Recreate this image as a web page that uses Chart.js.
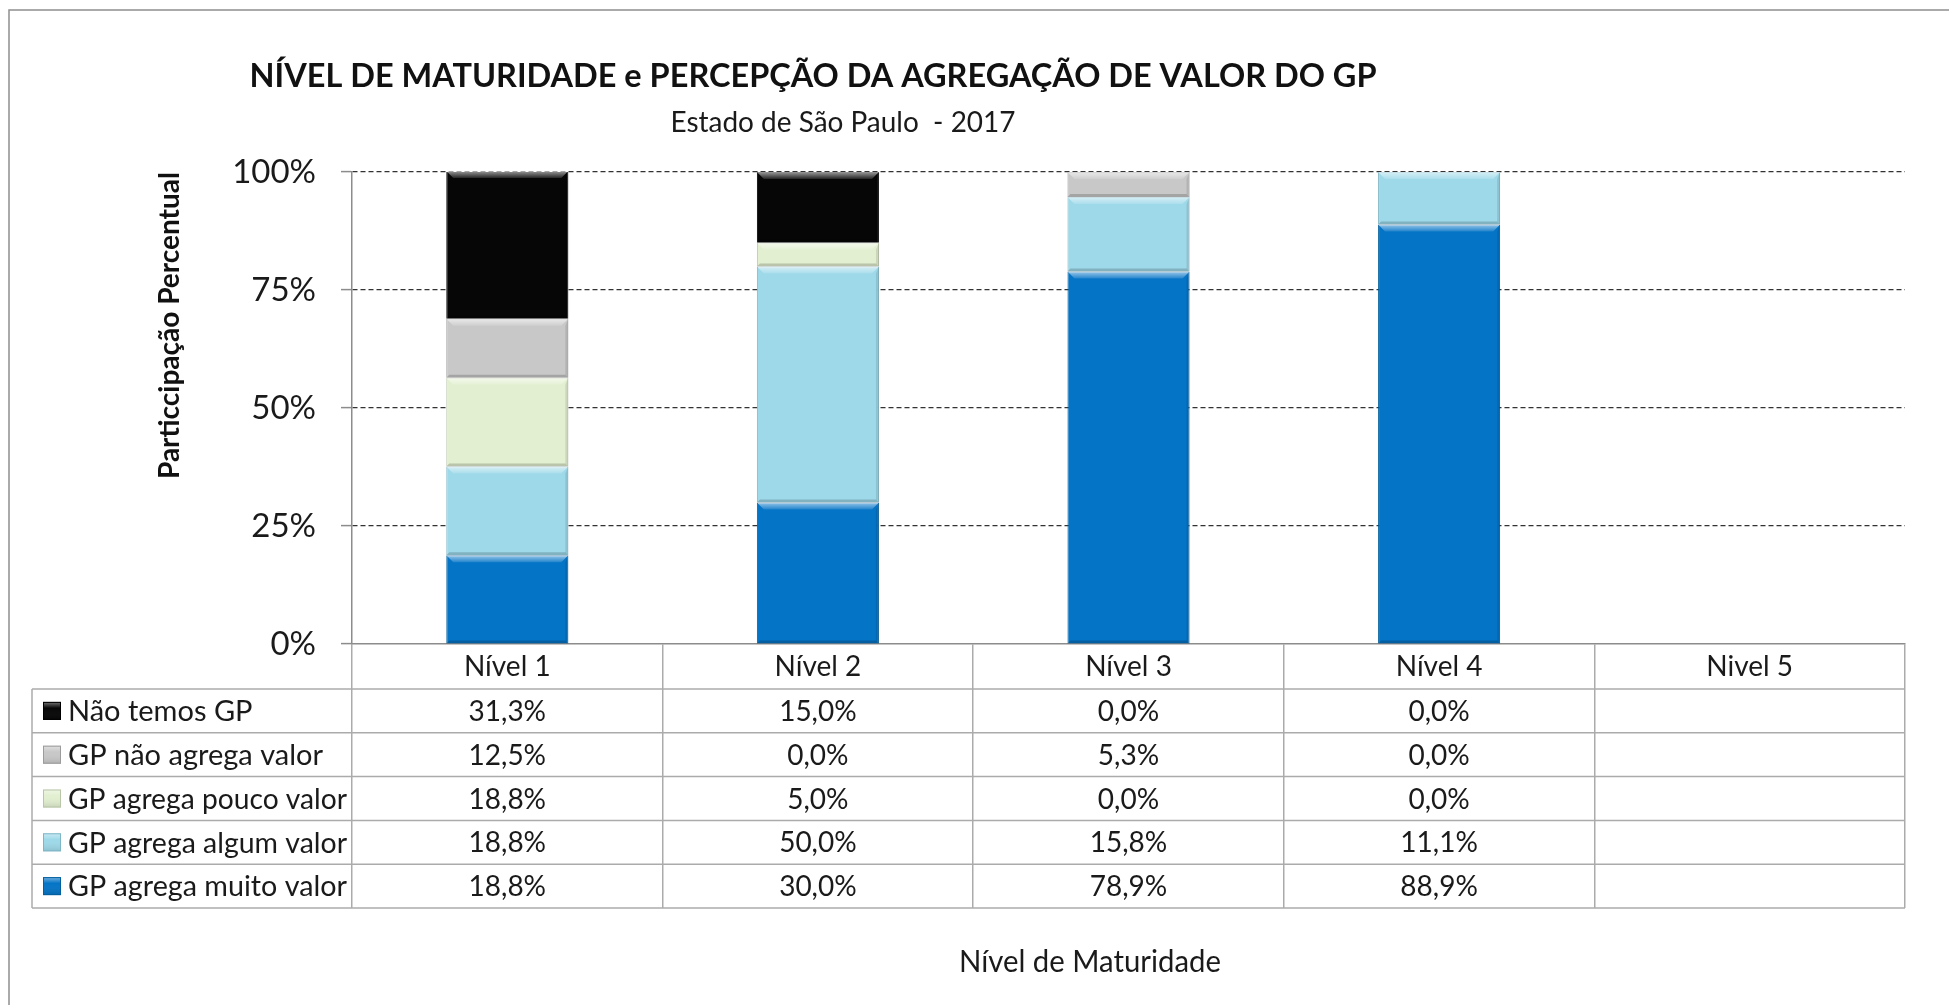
<!DOCTYPE html>
<html><head><meta charset="utf-8">
<script src="https://cdn.jsdelivr.net/npm/chart.js@4.4.1/dist/chart.umd.min.js"></script>
<style>html,body{margin:0;padding:0;background:#fff;overflow:hidden}canvas{display:block}</style>
</head><body>
<canvas id="c" width="1949" height="1005"></canvas>
<script>
// ---------- data ----------
const categories = ['Nível 1', 'Nível 2', 'Nível 3', 'Nível 4', 'Nivel 5'];
const seriesNames = ['GP agrega muito valor', 'GP agrega algum valor', 'GP agrega pouco valor', 'GP não agrega valor', 'Não temos GP'];
const muitoValor = [18.8, 30.0, 78.9, 88.9, null];
const algumValor = [18.8, 50.0, 15.8, 11.1, null];
const poucoValor = [18.8, 5.0, 0.0, 0.0, null];
const naoAgrega  = [12.5, 0.0, 5.3, 0.0, null];
const naoTemos   = [31.3, 15.0, 0.0, 0.0, null];
const yTicks = [0, 25, 50, 75, 100];
const chartTitle = 'NÍVEL DE MATURIDADE e PERCEPÇÃO DA AGREGAÇÃO DE VALOR DO GP';
const chartSubtitle = 'Estado de São Paulo  - 2017';
const yTitle = 'Particcipação Percentual';
const xTitle = 'Nível de Maturidade';

// ---------- styles ----------
const FONT = 'Lato';
const fills = ['#0474C6', '#9ED9E9', '#E2EFD0', '#C8C8C8', '#060606'];
const edges = ['#03609F', '#7FB6C6', '#B9C6A9', '#9C9C9C', '#000000'];
const tableLine = '#ABABAB';
const HEADER_H = 45, ROW_H = 43.8, TABLE_LEFT = 32;

const seriesValues = [muitoValor, algumValor, poucoValor, naoAgrega, naoTemos];

function fmt(v) { return (v === null || v === undefined) ? '' : v.toFixed(1).replace('.', ',') + '%'; }

// draws text, condensing horizontally (like a narrow face) if wider than maxW
function drawText(ctx, text, x, y, weight, size, maxW, align) {
  ctx.font = `${weight} ${size}px ${FONT}`;
  const w = ctx.measureText(text).width;
  const sx = (maxW && w > maxW) ? maxW / w : 1;
  ctx.save();
  ctx.translate(x, y);
  ctx.scale(sx, 1);
  ctx.textAlign = align;
  ctx.fillText(text, 0, 0);
  ctx.restore();
}

const framePlugin = {
  id: 'frame',
  beforeDraw(chart) {
    const ctx = chart.ctx;
    ctx.save();
    ctx.fillStyle = '#fff';
    ctx.fillRect(0, 0, chart.width, chart.height);
    ctx.strokeStyle = '#8F8F8F';
    ctx.lineWidth = 1.5;
    ctx.strokeRect(9, 10, chart.width + 20, chart.height + 20);
    ctx.restore();
  }
};

const bevelPlugin = {
  id: 'bevel',
  afterDatasetsDraw(chart) {
    const ctx = chart.ctx, ca = chart.chartArea;
    ctx.save();
    ctx.beginPath(); ctx.rect(ca.left, ca.top - 1, ca.right - ca.left, ca.bottom - ca.top + 1); ctx.clip();
    chart.data.datasets.forEach((ds, di) => {
      const meta = chart.getDatasetMeta(di);
      meta.data.forEach((el, i) => {
        const v = ds.data[i];
        if (!v) return;
        const p = el.getProps(['x', 'y', 'base', 'width'], true);
        const l = p.x - p.width / 2, r = p.x + p.width / 2;
        const t = Math.min(p.y, p.base), b = Math.max(p.y, p.base);
        const bv = Math.min(7, (b - t) / 3);
        let g = ctx.createLinearGradient(0, t, 0, t + bv);
        g.addColorStop(0, 'rgba(255,255,255,0.6)');
        g.addColorStop(1, 'rgba(255,255,255,0.12)');
        ctx.fillStyle = g;
        ctx.beginPath(); ctx.moveTo(l, t); ctx.lineTo(r, t); ctx.lineTo(r - bv, t + bv); ctx.lineTo(l + bv, t + bv); ctx.closePath(); ctx.fill();
        const sb = Math.min(3, (b - t) / 4);
        ctx.fillStyle = 'rgba(0,0,0,0.18)';
        ctx.beginPath(); ctx.moveTo(l, b); ctx.lineTo(r, b); ctx.lineTo(r - sb, b - sb); ctx.lineTo(l + sb, b - sb); ctx.closePath(); ctx.fill();
        ctx.fillStyle = 'rgba(0,0,0,0.10)';
        ctx.beginPath(); ctx.moveTo(r, t); ctx.lineTo(r, b); ctx.lineTo(r - sb, b - sb); ctx.lineTo(r - sb, t + bv); ctx.closePath(); ctx.fill();
      });
    });
    ctx.restore();
  }
};

const tablePlugin = {
  id: 'table',
  afterDraw(chart) {
    const ctx = chart.ctx, ca = chart.chartArea, xs = chart.scales.x;
    const top = ca.bottom + HEADER_H;
    const nRows = seriesNames.length;
    ctx.save();
    ctx.strokeStyle = tableLine; ctx.lineWidth = 1.5;
    for (let r = 0; r <= nRows; r++) {
      const y = top + r * ROW_H;
      ctx.beginPath(); ctx.moveTo(TABLE_LEFT, y); ctx.lineTo(xs.right, y); ctx.stroke();
    }
    ctx.beginPath(); ctx.moveTo(TABLE_LEFT, top); ctx.lineTo(TABLE_LEFT, top + nRows * ROW_H); ctx.stroke();

    ctx.textBaseline = 'middle';
    for (let r = 0; r < nRows; r++) {
      const si = nRows - 1 - r;
      const cy = top + r * ROW_H + ROW_H / 2;
      const kx = 43, ks = 18;
      ctx.fillStyle = fills[si];
      ctx.fillRect(kx, cy - ks / 2, ks, ks);
      const g = ctx.createLinearGradient(0, cy - ks / 2, 0, cy + ks / 2);
      g.addColorStop(0, 'rgba(255,255,255,0.45)'); g.addColorStop(0.35, 'rgba(255,255,255,0)'); g.addColorStop(1, 'rgba(0,0,0,0.12)');
      ctx.fillStyle = g; ctx.fillRect(kx, cy - ks / 2, ks, ks);
      ctx.strokeStyle = edges[si]; ctx.lineWidth = 1;
      ctx.strokeRect(kx + 0.5, cy - ks / 2 + 0.5, ks - 1, ks - 1);
      ctx.fillStyle = '#1a1a1a';
      drawText(ctx, seriesNames[si], 68, cy + 1, '400', 29, 279, 'left');
      seriesValues[si].forEach((v, ci) => {
        drawText(ctx, fmt(v), xs.getPixelForValue(ci), cy + 1, '400', 28, 0, 'center');
      });
    }

    ctx.textBaseline = 'alphabetic';
    ctx.fillStyle = '#111';
    drawText(ctx, chartTitle, 813, 87, '700', 33, 1127, 'center');
    ctx.fillStyle = '#1a1a1a';
    drawText(ctx, chartSubtitle, 843, 132, '400', 29, 345, 'center');
    drawText(ctx, xTitle, 1090, 972, '400', 31, 262, 'center');
    ctx.restore();
  }
};

function build() {
  Chart.defaults.font.family = FONT;
  Chart.defaults.color = '#1a1a1a';
  new Chart(document.getElementById('c'), {
    type: 'bar',
    data: {
      labels: categories,
      datasets: seriesValues.map((vals, i) => ({
        label: seriesNames[i],
        data: vals,
        backgroundColor: fills[i],
        borderColor: edges[i],
        borderWidth: 1,
        barPercentage: 0.393,
        categoryPercentage: 1.0
      }))
    },
    options: {
      responsive: false,
      animation: false,
      devicePixelRatio: 1,
      layout: { padding: { top: 172, right: 44, bottom: 0, left: 0 } },
      plugins: { legend: { display: false }, tooltip: { enabled: false }, title: { display: false } },
      scales: {
        x: {
          stacked: true,
          afterFit(s) { s.height = 361; },
          grid: { display: true, offset: true, drawOnChartArea: false, drawTicks: true, tickLength: 264, color: tableLine, lineWidth: 1.5 },
          border: { display: true, color: '#8C8C8C', width: 1.5 },
          ticks: { autoSkip: false, maxRotation: 0, padding: -258, color: '#1a1a1a', font: { size: 28, lineHeight: 1.2 } }
        },
        y: {
          stacked: true,
          min: 0, max: 100,
          afterFit(s) { s.width = 352; },
          afterBuildTicks(s) { s.ticks = yTicks.map(v => ({ value: v })); },
          grid: {
            color: c => (c.tick && c.tick.value === 0) ? 'rgba(0,0,0,0)' : '#333333',
            lineWidth: 1.2, tickLength: 11, tickColor: '#8C8C8C', tickWidth: 1.5
          },
          border: { display: true, color: '#8C8C8C', width: 1.5, dash: [5, 3] },
          ticks: { padding: 25, color: '#1a1a1a', font: { size: 33 }, callback: v => v + '%' },
          title: { display: true, text: yTitle, align: 'end', color: '#111', font: { size: 28, weight: '700', lineHeight: 1.2 }, padding: { top: 153, bottom: 0 } }
        }
      }
    },
    plugins: [framePlugin, bevelPlugin, tablePlugin]
  });
}
if (document.fonts && document.fonts.load) {
  Promise.all([document.fonts.load(`400 26px ${FONT}`), document.fonts.load(`700 26px ${FONT}`)]).then(build, build);
} else build();
</script>
</body></html>
